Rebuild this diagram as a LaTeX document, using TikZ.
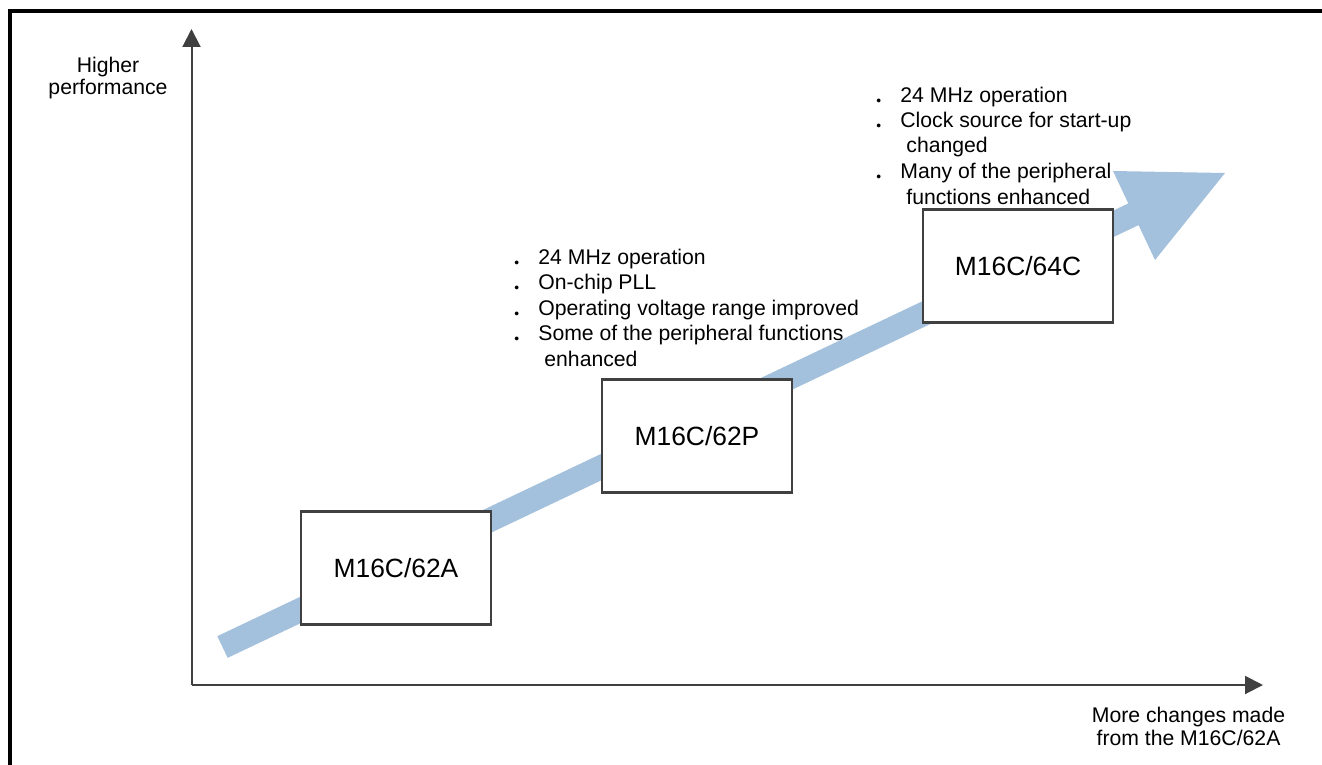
\documentclass[tikz,border=0pt]{standalone}
\usepackage{fontspec}
\setmainfont{Liberation Sans}
\usepackage{graphicx}
\usepackage{tikz}
\usetikzlibrary{arrows.meta}
\definecolor{m16blue}{RGB}{163,193,220}
\definecolor{m16gray}{RGB}{64,64,64}
\newcommand{\featitem}[1]{\makebox[12pt][l]{\raisebox{-1.7pt}{\scalebox{0.65}{\textbullet}}}#1}
\newcommand{\featcont}[1]{\hspace*{15pt}#1}

\begin{document}
\begin{tikzpicture}[x=0.5pt,y=-0.5pt,
    featbox/.style={draw=m16gray,line width=1.25pt,fill=white,%
        minimum width=95pt,minimum height=56.5pt,%
        font=\fontsize{13.2}{16}\selectfont},
    featlist/.style={anchor=base west,align=left,inner sep=0pt,%
        font=\fontsize{10.6}{12.75}\selectfont},
    axislabel/.style={anchor=base,align=center,inner sep=0pt,%
        font=\fontsize{10.6}{11.3}\selectfont},
    axisline/.style={m16gray,line width=1pt,-{Triangle[length=9pt,width=9pt]}}]
    \useasboundingbox (0,0) rectangle (1322,765);

    % Frame
    \draw[line width=2pt] (9.5,765) -- (9.5,11) -- (1322,11);

    % Define axes
    \coordinate (origin) at (191.5,685);
    \coordinate (ytop) at (191.5,29);
    \coordinate (xend) at (1263,685);
    \draw[axisline] (origin) -- (ytop);
    \draw[axisline] (origin) -- (xend);
    \node[axislabel] (ylabel) at (108,95) {Higher\\performance};
    \node[axislabel] (xlabel) at (1188.5,745) {More changes made\\from the M16C/62A};

    % Draw the growth arrow
    \coordinate (tail) at (222.5,647);
    \coordinate (headbase) at (1134,214);
    \draw[m16blue,line width=12pt] (tail) -- (headbase);
    \fill[m16blue] (1113,171) -- (1225,173) -- (1155,260) -- cycle;

    % Draw the chips
    \node[featbox] (chip62A) at (396,568) {M16C/62A};
    \node[featbox] (chip62P) at (697,436) {M16C/62P};
    \node[featbox] (chip64C) at (1018,266) {M16C/64C};

    % Feature lists
    \node[featlist] (list62P) at (514,366) {\featitem{24 MHz operation}\\
        \featitem{On-chip PLL}\\
        \featitem{Operating voltage range improved}\\
        \featitem{Some of the peripheral functions}\\
        \featcont{enhanced}};
    \node[featlist] (list64C) at (876,204) {\featitem{24 MHz operation}\\
        \featitem{Clock source for start-up}\\
        \featcont{changed}\\
        \featitem{Many of the peripheral}\\
        \featcont{functions enhanced}};
\end{tikzpicture}
\end{document}
